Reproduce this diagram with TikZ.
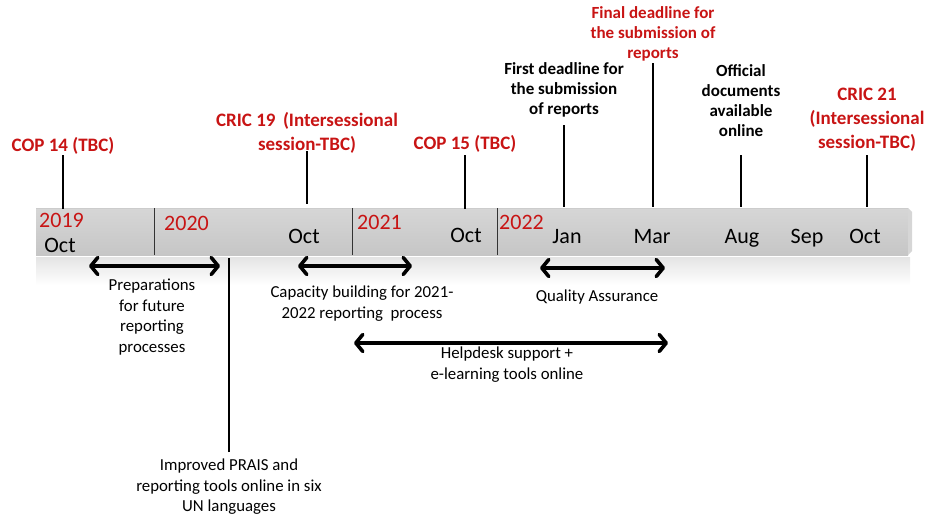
\documentclass[tikz,border=0pt]{standalone}
\usepackage{fontspec}
\setmainfont{Carlito}
\usetikzlibrary{arrows.meta}
\definecolor{evred}{RGB}{200,20,20}
\definecolor{bartop}{RGB}{214,214,214}
\definecolor{barbot}{RGB}{198,198,198}
\definecolor{bandtop}{RGB}{228,228,228}
\begin{document}
\begin{tikzpicture}[x=1pt,y=-1pt,
  evlab/.style={font={\bfseries\fontsize{19}{24}\selectfont}, text=evred, align=center, inner sep=0pt, anchor=north},
  dlab/.style={font={\bfseries\fontsize{17}{20}\selectfont}, align=center, inner sep=0pt, anchor=north},
  actlab/.style={font={\fontsize{16.8}{20.5}\selectfont}, align=center, inner sep=0pt, anchor=north},
  yearlab/.style={font={\fontsize{22}{24}\selectfont}, text=evred, inner sep=0pt, anchor=base west},
  monlab/.style={font={\fontsize{22}{24}\selectfont}, inner sep=0pt, anchor=base},
  tick/.style={line width=2.3pt},
  divider/.style={line width=0.8pt, black!80},
  span/.style={line width=3.6pt, line cap=round,
    {Straight Barb[length=7pt,width=17pt,round]}-{Straight Barb[length=7pt,width=17pt,round]}},
]
\useasboundingbox (0,0) rectangle (933,522);

% lower band and bar
\shade[top color=bandtop, bottom color=white] (36,257) rectangle (910,285);
\shade[top color=bartop, bottom color=barbot] (36,208) rectangle (908,255);
\fill[bartop] (908,208) -- (912,212) -- (912,251) -- (908,255) -- cycle;
\draw[white!80!black, line width=0.8pt] (36,208.4) -- (908,208.4);

% dividers
\draw[divider] (154,208) -- (154,255);
\draw[divider] (352,208) -- (352,255);
\draw[divider] (497,208) -- (497,255);

% years
\node[yearlab] (y19) at (39,227) {2019};
\node[yearlab] (y20) at (164,230) {2020};
\node[yearlab] (y21) at (357,229) {2021};
\node[yearlab] (y22) at (499,229) {2022};

% months
\node[monlab] (m1) at (60,252) {Oct};
\node[monlab] (m2) at (304,243) {Oct};
\node[monlab] (m3) at (466,242) {Oct};
\node[monlab] (m4) at (567,243) {Jan};
\node[monlab] (m5) at (652,243) {Mar};
\node[monlab] (m6) at (742,243) {Aug};
\node[monlab] (m7) at (807,243) {Sep};
\node[monlab] (m8) at (865,243) {Oct};

% top labels
\node[evlab] (cop14) at (63,137) {COP 14 (TBC)};
\node[evlab] (cric19) at (307,112) {CRIC 19 \,(Intersessional\\session-TBC)};
\node[evlab] (cop15) at (465,135) {COP 15 (TBC)};
\node[dlab] (first) at (564,62) {First deadline for\\the submission\\of reports};
\node[dlab, text=evred] (final) at (653,6) {Final deadline for\\the submission of\\reports};
\node[dlab] (official) at (741,64) {Official\\documents\\available\\online};
\node[evlab] (cric21) at (867,88) {CRIC 21\\(Intersessional\\session-TBC)};

% ticks
\draw[tick] (cop14.south |- 0,155) -- (cop14.south |- 0,209);
\draw[tick] (cric19.south |- 0,151) -- (cric19.south |- 0,204);
\draw[tick] (cop15.south |- 0,155) -- (cop15.south |- 0,209);
\draw[tick] (first.south |- 0,125) -- (first.south |- 0,207);
\draw[tick] (final.south |- 0,63) -- (final.south |- 0,207);
\draw[tick] (official.south |- 0,155) -- (official.south |- 0,207);
\draw[tick] (cric21.south |- 0,155) -- (cric21.south |- 0,207);

% activity spans
\coordinate (p1) at (89,266); \coordinate (p2) at (220,266);
\coordinate (c1) at (298,266); \coordinate (c2) at (412,266);
\coordinate (q1) at (540,268); \coordinate (q2) at (665,268);
\coordinate (h1) at (354,343); \coordinate (h2) at (668,343);
\draw[span] (p1) -- (p2);
\draw[span] (c1) -- (c2);
\draw[span] (q1) -- (q2);
\draw[span] (h1) -- (h2);

% activity labels
\node[actlab] (prep) at (152,279) {Preparations\\for future\\reporting\\processes};
\node[actlab] (cap) at (362,286) {Capacity building for 2021-\\2022 reporting \ process};
\node[actlab] (qa) at (597,290) {Quality Assurance};
\node[actlab] (help) at (507,347) {Helpdesk support +\\e-learning tools online};
\node[actlab] (prais) at (229,459) {Improved PRAIS and\\reporting tools online in six\\UN languages};

\draw[line width=1.8pt] (prais.north) ++(0,-7) -- (prais.north |- 0,258);
\end{tikzpicture}
\end{document}
